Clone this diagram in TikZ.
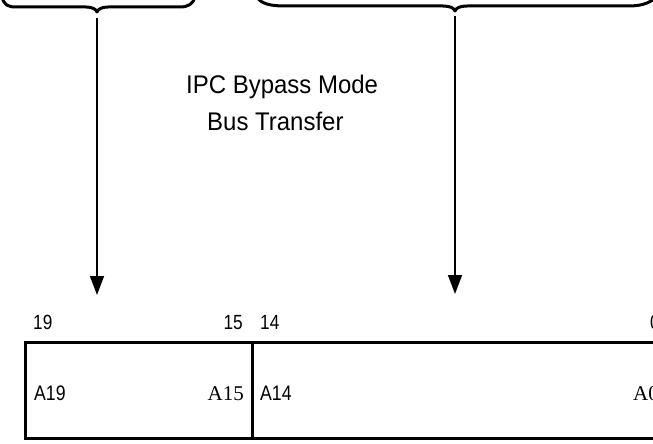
\documentclass[tikz,border=0pt]{standalone}
\usepackage{fontspec}
\usetikzlibrary{arrows.meta}
\newfontfamily\titlefnt[FakeStretch=0.94]{Liberation Sans}
\newfontfamily\lblfnt[FakeStretch=0.84]{Liberation Sans}
\newfontfamily\serfnt{Liberation Serif}
\tikzset{
  brace/.style={line width=3pt, line cap=round, line join=round},
  pointer/.style={line width=1.5pt, -{Triangle[length=19pt,width=14pt]}},
  field/.style={line width=3pt},
  title/.style={inner sep=0pt, anchor=base west, font=\titlefnt\fontsize{25.5}{30}\selectfont},
  bitnum/.style={inner sep=0pt, font=\lblfnt\fontsize{20.5}{24}\selectfont},
  sig/.style={inner sep=0pt, font=\lblfnt\fontsize{21}{25}\selectfont},
  sigser/.style={inner sep=0pt, font=\serfnt\fontsize{21}{25}\selectfont}
}
\begin{document}
\begin{tikzpicture}[x=1pt,y=-1pt]
\useasboundingbox (0,0) rectangle (653,444);
% braces
\draw[brace] (2,-3) .. controls (4,5) and (8,7) .. (16,7) -- (86,7)
  .. controls (92,7) and (96,9) .. (97,12) .. controls (98,9) and (102,7) .. (108,7)
  -- (180,7) .. controls (188,7) and (193,4) .. (195,-3);
\draw[brace] (257,-3) .. controls (261,4) and (271,6) .. (285,6) -- (443,6)
  .. controls (450,6) and (454,8) .. (455,11) .. controls (456,8) and (460,6) .. (467,6)
  -- (628,6) .. controls (642,6) and (650,3) .. (656,-3);
% arrow coordinates
\coordinate (ltop) at (97,18);
\coordinate (lend) at (97,295);
\coordinate (rtop) at (455,16);
\coordinate (rend) at (455,294);
\draw[pointer] (ltop) -- (lend);
\draw[pointer] (rtop) -- (rend);
% title
\node[title] (t1) at (186,93) {IPC Bypass Mode};
\node[title] (t2) at (207,130) {Bus Transfer};
% register
\draw[field] (680,342) -- (25,342) -- (25,438) -- (680,438);
\draw[field] (252,342) -- (252,438);
% bit numbers
\node[bitnum, anchor=base west] (b19) at (33,329) {19};
\node[bitnum, anchor=base east] (b15) at (243,329) {15};
\node[bitnum, anchor=base west] (b14) at (260,329) {14};
\node[bitnum, anchor=base west] (b0) at (650,329) {0};
% signals
\node[sig, anchor=base west] (a19) at (34,400) {A19};
\node[sigser, anchor=base east] (a15) at (244,400) {A15};
\node[sig, anchor=base west] (a14) at (260,400) {A14};
\node[sigser, anchor=base west] (a0) at (633,400) {A0};
\end{tikzpicture}
\end{document}
